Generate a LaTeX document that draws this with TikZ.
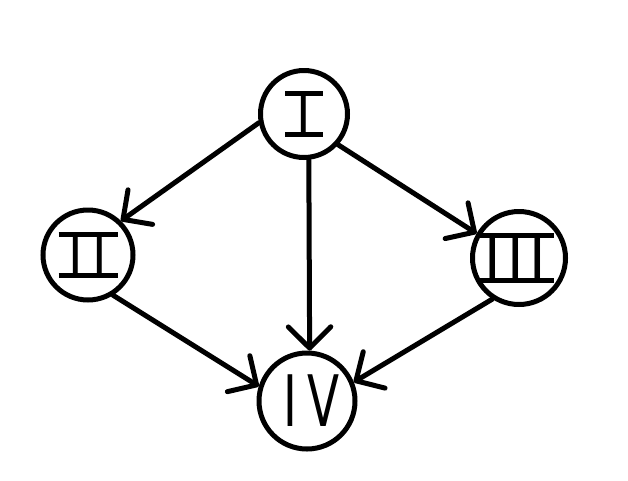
\documentclass[tikz,border=0pt]{standalone}
\usepackage{fontspec}
\setmainfont{DejaVu Sans}
\usetikzlibrary{arrows.meta}

% numeral set between a top and a bottom bar: #1 bar width, #2 font size, #3 glyphs
\newcommand\barred[3]{%
  \vbox{\hrule height 5pt width #1%
        \hbox to #1{\hss\fontsize{#2}{#2}\selectfont #3\hss}%
        \hrule height 5pt width #1}}

\begin{document}
\begin{tikzpicture}[x=1pt,y=-1pt,
  state/.style={draw, circle, inner sep=0pt, line width=5pt},
  edge/.style={-{Straight Barb[angle=90:30pt,round]}, line width=5pt, line cap=round}]
\useasboundingbox (0,0) rectangle (628,480);
\fill[white] (0,0) rectangle (628,480);

% the four states
\node[state, minimum size=87pt] (I)   at (304,114) {\barred{38pt}{49.4pt}{I}};
\node[state, minimum size=90pt] (II)  at (88,255)  {\raisebox{-5pt}{\barred{59pt}{49.4pt}{I\kern9.4pt I}}};
\node[state, minimum size=93pt] (III) at (519,258) {\kern-7pt\barred{77pt}{56pt}{I\kern6pt I\kern6pt I}};
\node[state, minimum size=96pt] (IV)  at (307,401) {\kern9pt\raisebox{-5pt}{\fontsize{71pt}{71pt}\selectfont\scalebox{0.66}[1]{I\kern15pt V}}};

% transitions
\draw[edge] (I.191) -- (II.46);
\draw[edge] (I.318) -- (III.150);
\draw[edge] (I.276) -- (IV.87);
\draw[edge] (II.302) -- (IV.163);
\draw[edge] (III.237) -- (IV.22);
\end{tikzpicture}
\end{document}
